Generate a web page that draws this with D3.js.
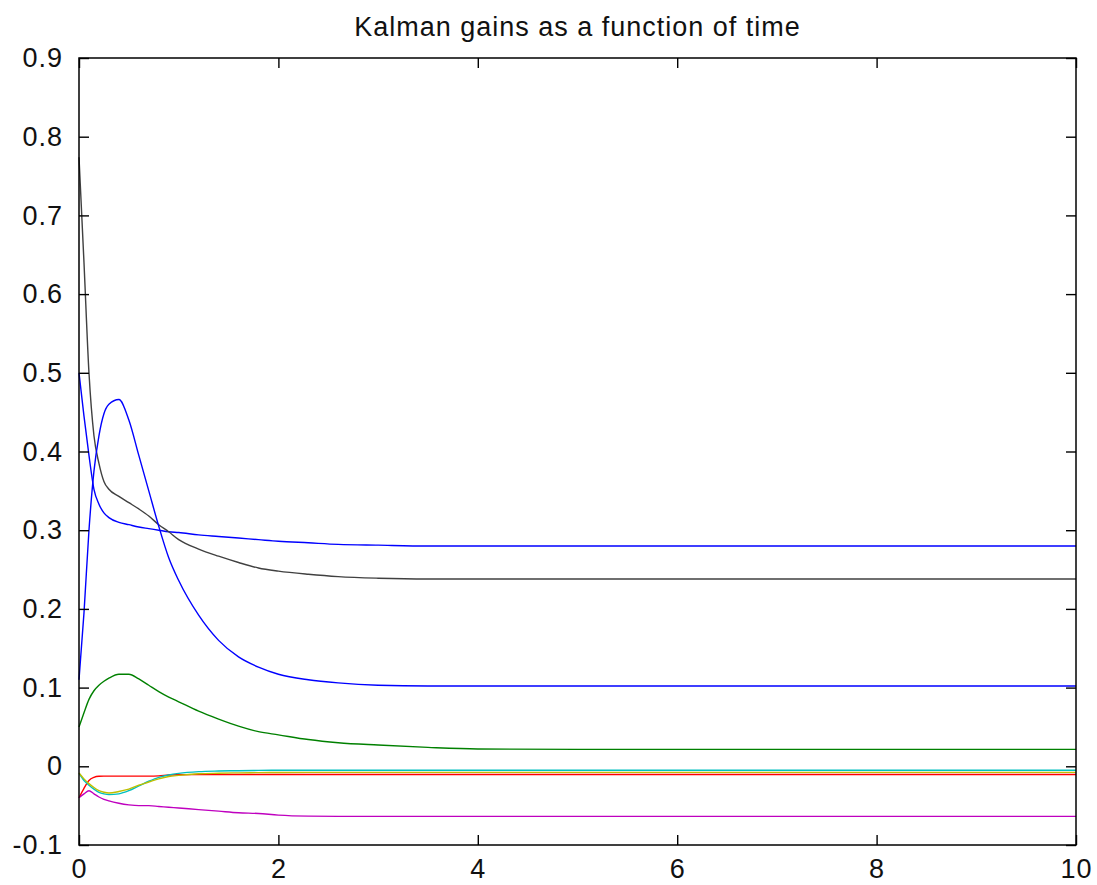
<!DOCTYPE html>
<html>
<head>
<meta charset="utf-8">
<script src="https://cdn.jsdelivr.net/npm/d3@7"></script>
<style>
	body { margin: 0; background: #fff; }
	text { font-family: "Liberation Sans", Arial, sans-serif; fill: #111; }
</style>
</head>
<body>
<svg></svg>
<script>
const time = [0, 0.05, 0.1, 0.15, 0.2, 0.25, 0.3, 0.4, 0.5, 0.6, 0.7, 0.8, 0.9, 1.0, 1.2, 1.4, 1.6, 1.8, 2.0, 2.3, 2.6, 3.0, 3.5, 4, 5, 6, 7, 8, 9, 10];

const gain_1 = [0.500, 0.445, 0.395, 0.352, 0.333, 0.322, 0.316, 0.310, 0.307, 0.304, 0.302, 0.300, 0.298, 0.297, 0.294, 0.292, 0.290, 0.288, 0.286, 0.284, 0.282, 0.281, 0.280, 0.280, 0.280, 0.280, 0.280, 0.280, 0.280, 0.280];
const gain_2 = [0.050, 0.068, 0.085, 0.096, 0.103, 0.108, 0.112, 0.117, 0.117, 0.111, 0.103, 0.095, 0.088, 0.082, 0.070, 0.060, 0.051, 0.044, 0.040, 0.034, 0.030, 0.027, 0.024, 0.022, 0.0215, 0.0215, 0.0215, 0.0215, 0.0215, 0.0215];
const gain_3 = [-0.040, -0.028, -0.018, -0.014, -0.0127, -0.0125, -0.0125, -0.0125, -0.0125, -0.0125, -0.0125, -0.0122, -0.011, -0.0107, -0.0105, -0.0105, -0.0105, -0.0105, -0.0105, -0.0105, -0.0105, -0.0105, -0.0105, -0.0105, -0.0105, -0.0105, -0.0105, -0.0105, -0.0105, -0.0105];
const gain_4 = [-0.009, -0.018, -0.024, -0.029, -0.033, -0.035, -0.036, -0.035, -0.031, -0.025, -0.019, -0.014, -0.011, -0.009, -0.0068, -0.006, -0.0056, -0.0052, -0.005, -0.005, -0.005, -0.005, -0.005, -0.005, -0.005, -0.005, -0.005, -0.005, -0.005, -0.005];
const gain_5 = [-0.040, -0.035, -0.031, -0.035, -0.039, -0.042, -0.044, -0.047, -0.049, -0.050, -0.050, -0.051, -0.052, -0.053, -0.055, -0.057, -0.059, -0.060, -0.062, -0.0633, -0.0636, -0.0636, -0.0636, -0.0636, -0.0636, -0.0636, -0.0636, -0.0636, -0.0636, -0.0636];
const gain_6 = [-0.0085, -0.016, -0.022, -0.027, -0.031, -0.033, -0.034, -0.032, -0.029, -0.024, -0.020, -0.016, -0.013, -0.0115, -0.0095, -0.0088, -0.0083, -0.008, -0.0078, -0.0077, -0.0077, -0.0077, -0.0077, -0.0077, -0.0077, -0.0077, -0.0077, -0.0077, -0.0077, -0.0077];
const gain_7 = [0.774, 0.640, 0.500, 0.420, 0.385, 0.362, 0.352, 0.343, 0.335, 0.327, 0.318, 0.307, 0.298, 0.288, 0.276, 0.267, 0.259, 0.252, 0.248, 0.244, 0.241, 0.239, 0.238, 0.238, 0.238, 0.238, 0.238, 0.238, 0.238, 0.238];
const gain_8 = [0.110, 0.195, 0.300, 0.375, 0.420, 0.448, 0.460, 0.466, 0.440, 0.395, 0.350, 0.305, 0.265, 0.236, 0.192, 0.160, 0.139, 0.126, 0.117, 0.110, 0.106, 0.103, 0.102, 0.102, 0.102, 0.102, 0.102, 0.102, 0.102, 0.102];

const x_ticks = [0, 2, 4, 6, 8, 10];
const y_ticks = [-0.1, 0, 0.1, 0.2, 0.3, 0.4, 0.5, 0.6, 0.7, 0.8, 0.9];

// matlab default line colours, wrapping back to blue
const colours = ['#0000ff', '#008000', '#ff0000', '#00bfbf', '#bf00bf', '#bfbf00', '#404040', '#0000ff'];
const gains = [gain_1, gain_2, gain_3, gain_4, gain_5, gain_6, gain_7, gain_8];

const margin = {
	"top": 58,
	"right": 21,
	"bottom": 40,
	"left": 79
};

const width = 1097 - margin.left - margin.right;
const height = 885 - margin.top - margin.bottom;
const tick_len = 10;

let svg = d3.select('svg')
	.attr('width', 1097)
	.attr('height', 885);

let x = d3.scaleLinear().domain([0, 10]).range([0, width]);
let y = d3.scaleLinear().domain([-0.1, 0.9]).range([height, 0]);

let container = svg.append('g')
	.attr('transform', 'translate(' + margin.left + ',' + margin.top + ')');

// title
svg.append('text')
	.attr('x', margin.left + width / 2)
	.attr('y', 36)
	.attr('text-anchor', 'middle')
	.style('font-size', '27px')
	.style('letter-spacing', '1px')
	.text('Kalman gains as a function of time');

// series
let line = d3.line()
	.x(function(d, i){ return x(time[i]); })
	.y(function(d){ return y(d); })
	.curve(d3.curveMonotoneX);

container.selectAll('path.gain')
	.data(gains)
	.enter()
	.append('path')
	.classed('gain', true)
	.attr('fill', 'none')
	.attr('stroke', function(d, i){ return colours[i]; })
	.attr('stroke-width', 1.4)
	.attr('d', line);

// axes: ticks point inward on all four sides
function styleAxis(g){
	g.select('.domain').remove();
	g.selectAll('.tick line').attr('stroke', '#000').attr('stroke-width', 1.4);
	g.selectAll('.tick text')
		.style('font-size', '27px')
		.style('letter-spacing', '1px')
		.attr('fill', '#111');
}

function yLabel(d){
	// plain hyphen like the original, and "0" instead of "0.0"
	if (Math.abs(d) < 1e-9) return '0';
	return (d < 0 ? '-' : '') + Math.abs(d).toFixed(1);
}

container.append('g')
	.attr('transform', 'translate(0,' + height + ')')
	.call(d3.axisBottom(x).tickValues(x_ticks).tickSize(-tick_len).tickPadding(14).tickFormat(d3.format('d')))
	.call(styleAxis);

container.append('g')
	.call(d3.axisTop(x).tickValues(x_ticks).tickSize(-tick_len).tickFormat(''))
	.call(styleAxis);

container.append('g')
	.call(d3.axisLeft(y).tickValues(y_ticks).tickSize(-tick_len).tickPadding(16).tickFormat(yLabel))
	.call(styleAxis);

container.append('g')
	.attr('transform', 'translate(' + width + ',0)')
	.call(d3.axisRight(y).tickValues(y_ticks).tickSize(-tick_len).tickFormat(''))
	.call(styleAxis);

// box
container.append('rect')
	.attr('width', width)
	.attr('height', height)
	.attr('fill', 'none')
	.attr('stroke', '#000')
	.attr('stroke-width', 1.5);
</script>
</body>
</html>
